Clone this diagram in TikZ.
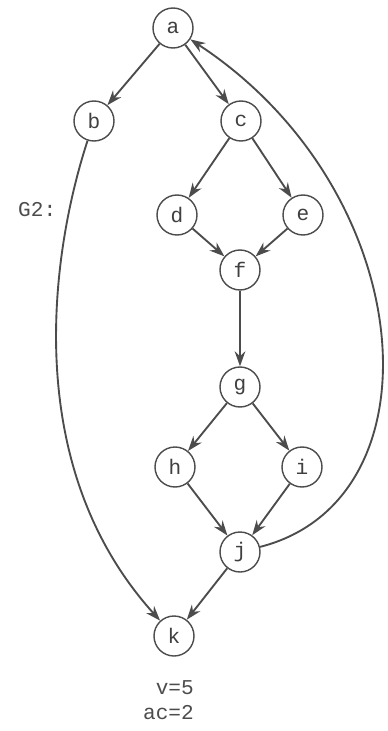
\documentclass[tikz,border=0pt]{standalone}
\usepackage{fontspec}
\setmonofont{Liberation Mono}
\usepackage{tikz}
\usetikzlibrary{arrows.meta, positioning}

\begin{document}
\begin{tikzpicture}[
    x=0.3mm, y=-0.3mm,
    font=\ttfamily\fontsize{18}{22}\selectfont,
    vertex/.style={
        circle, draw=black!70, line width=1.2pt, fill=white,
        minimum size=12mm, inner sep=0pt, text=black!75
    },
    arrow/.style={
        -{Stealth[length=4.5mm, width=3.2mm]}, line width=1.6pt, draw=black!70
    },
    note/.style={
        text=black!70, align=right, inner sep=0pt
    }
]
    \useasboundingbox (0,0) rectangle (387,731);

    % --- NODES ---
    \node [vertex] (a) at (173,28) {a};
    \node [vertex] (b) at (94,121) {b};
    \node [vertex] (c) at (241,121) {c};
    \node [vertex] (d) at (177,215) {d};
    \node [vertex] (e) at (303,215) {e};
    \node [vertex] (f) at (240,270) {f};
    \node [vertex] (g) at (240,387) {g};
    \node [vertex] (h) at (175,467) {h};
    \node [vertex] (i) at (302,467) {i};
    \node [vertex] (j) at (240,552) {j};
    \node [vertex] (k) at (174,636) {k};

    \node [note, anchor=west] (name) at (18,210) {G2:};
    \node [note, anchor=north east] (vcount) at (194,680) {v=5\\ac=2};

    % --- CONNECTING ARROWS ---
    \draw [arrow] (a) -- (b);
    \draw [arrow] (a) -- (c);
    \draw [arrow] (c) -- (d);
    \draw [arrow] (c) -- (e);
    \draw [arrow] (d) -- (f);
    \draw [arrow] (e) -- (f);
    \draw [arrow] (f) -- (g);
    \draw [arrow] (g) -- (h);
    \draw [arrow] (g) -- (i);
    \draw [arrow] (h) -- (j);
    \draw [arrow] (i) -- (j);
    \draw [arrow] (j) -- (k);

    \draw [arrow] (b) .. controls (55,240) and (15,460) .. (k);
    \draw [arrow] (j) .. controls (444,500) and (420,190) .. (a);

\end{tikzpicture}
\end{document}
